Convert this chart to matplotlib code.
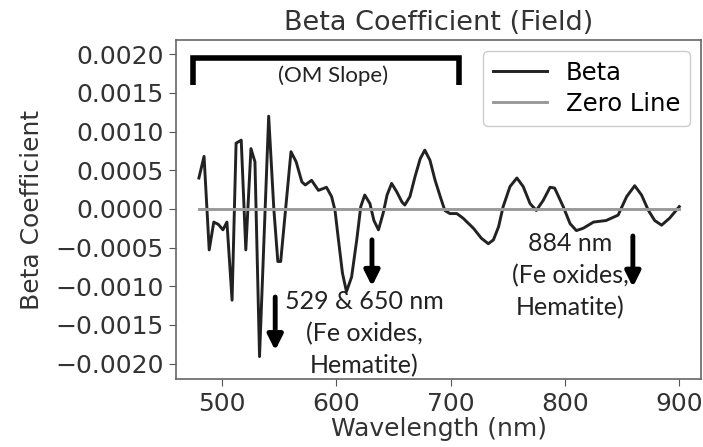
import matplotlib
matplotlib.use("Agg")
import matplotlib.pyplot as plt

wavelength = [480, 484.5, 489, 493, 497, 501, 504.5, 509, 512.5, 517, 521, 525.5, 529, 533,
              541, 545.5, 549, 551.5, 560.5, 565, 570, 573, 578.5, 584.5, 591.5, 596,
              599, 602, 605.5, 609, 613.5, 618, 621.5, 625, 629.5, 633, 637, 641, 644.5,
              648.5, 653, 657.5, 660, 664.5, 669, 673.5, 677.5, 682, 686.5, 691, 695,
              699.5, 705.5, 711, 720, 727, 733, 737.5, 742, 746, 752, 758, 763.5, 769.5,
              775, 781, 787, 791, 798.5, 804.5, 810, 816, 825, 836, 846.5, 854, 861, 867,
              873, 878.5, 884.5, 891.5, 900]
beta = [0.00040, 0.00068, -0.00053, -0.00017, -0.00020, -0.00027, -0.00017, -0.00118,
        0.00085, 0.00089, -0.00053, 0.00078, 0.00061, -0.00191,
        0.00120, 0.00000, -0.00068, -0.00068, 0.00074, 0.00061, 0.00035, 0.00031, 0.00037,
        0.00024, 0.00028, 0.00016,
        -0.00002, -0.00040, -0.00083, -0.00107, -0.00088, -0.00040, 0.00003, 0.00018,
        0.00007, -0.00015, -0.00027, -0.00006, 0.00018,
        0.00033, 0.00022, 0.00009, 0.00005, 0.00016, 0.00042, 0.00065, 0.00076, 0.00063,
        0.00037, 0.00016, -0.00002,
        -0.00006, -0.00006, -0.00012, -0.00025, -0.00038, -0.00045, -0.00040, -0.00023,
        0.00003, 0.00029, 0.00040, 0.00029, 0.00007,
        -0.00002, 0.00011, 0.00028, 0.00027, 0.00003, -0.00019, -0.00028, -0.00025,
        -0.00017, -0.00015, -0.00008, 0.00016, 0.00030, 0.00018,
        -0.00002, -0.00015, -0.00021, -0.00012, 0.00003]
zero_x = [480, 900]
zero_y = [0.0, 0.0]
yticks = [-0.0020, -0.0015, -0.0010, -0.0005, 0.0, 0.0005, 0.0010, 0.0015, 0.0020]
xticks = [500, 600, 700, 800, 900]

fig = plt.figure(figsize=(7.03, 4.47), dpi=100)
ax = fig.add_axes([0.2504, 0.1521, 0.7468, 0.7584])

ax.plot(wavelength, beta, color="#222222", lw=2.1, label="Beta", solid_joinstyle="round")
ax.plot(zero_x, zero_y, color="#999999", lw=2.1, label="Zero Line")

ax.set_xlim(460, 919)
ax.set_ylim(-0.0022, 0.002185)
ax.set_xticks(xticks)
ax.set_yticks(yticks)
ax.set_yticklabels([f"{v:.4f}".replace("-", "\u2212") for v in yticks])
ax.tick_params(labelsize=18, length=5, color="#555555", labelcolor="#333333", pad=4)
for s in ax.spines.values():
    s.set_color("#666666")
    s.set_linewidth(1.2)

ax.set_title("Beta Coefficient (Field)", fontsize=19.5, color="#333333", pad=7)
ax.set_xlabel("Wavelength (nm)", fontsize=18, color="#333333", labelpad=1)
ax.set_ylabel("Beta Coefficient", fontsize=18, color="#333333", labelpad=8)

leg = ax.legend(loc="upper right", fontsize=17.5, frameon=True, borderaxespad=0.45,
                handlelength=2.2, labelspacing=0.3, framealpha=1)
leg.get_frame().set_edgecolor("#cccccc")

# OM slope bracket
ax.plot([474.6, 474.6, 707.4, 707.4], [0.0016, 0.00195, 0.00195, 0.0016],
        color="black", lw=4, solid_joinstyle="miter", solid_capstyle="butt")
ann_font = dict(family=["Lato", "DejaVu Sans"], color="#222222")
ax.text(597.5, 0.00172, "(OM Slope)", ha="center", va="center", fontsize=16, **ann_font)

# arrows
arrow_props = dict(arrowstyle="-|>,head_width=0.45,head_length=0.9", color="black", lw=3.5,
                   shrinkA=0, shrinkB=0)
for x, y0, y1 in [(546.7, -0.00114, -0.00183), (631.3, -0.00040, -0.00100),
                  (859.4, -0.00035, -0.00101)]:
    ax.annotate("", xy=(x, y1), xytext=(x, y0), arrowprops=arrow_props)

ax.text(624.6, -0.00161, "529 & 650 nm\n(Fe oxides,\nHematite)", ha="center", va="center",
        fontsize=18, linespacing=1.45, **ann_font)
ax.text(804.6, -0.00086, "884 nm\n(Fe oxides,\nHematite)", ha="center", va="center",
        fontsize=18, linespacing=1.45, **ann_font)

fig.savefig("out.png", dpi=100)
